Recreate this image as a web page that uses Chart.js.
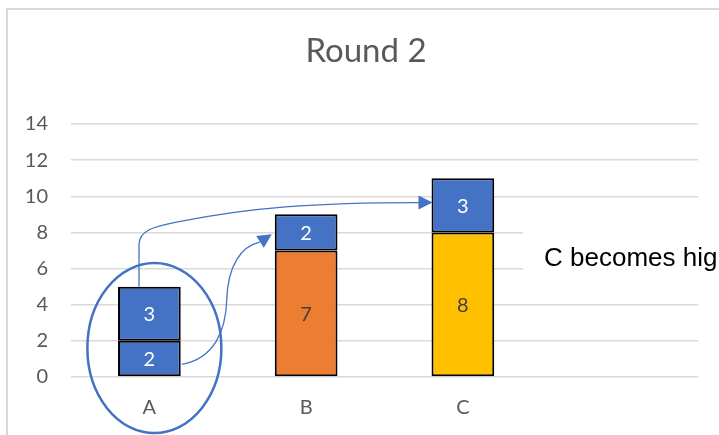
<!DOCTYPE html>
<html>
<head>
<meta charset="utf-8">
<script src="https://cdn.jsdelivr.net/npm/chart.js@4/dist/chart.umd.min.js"></script>
<style>
  html, body { margin: 0; padding: 0; background: #fff; overflow: hidden; }
  #wrap { position: relative; width: 719px; height: 435px; }
</style>
</head>
<body>
<div id="wrap"><canvas id="c" width="719" height="435"></canvas></div>
<script>
// Categories (the fourth slot is left empty)
const categories = ['A', 'B', 'C', ''];
// Lower segment of each stack
const baseValues = [2, 7, 8, null];
// Upper (blue) segment of each stack
const addedValues = [3, 2, 3, null];
// Axis ticks
const yTicks = [0, 2, 4, 6, 8, 10, 12, 14];
const chartTitle = 'Round 2';

const BLUE = '#4472C4';
const ORANGE = '#ED7D31';
const GOLD = '#FFC000';
const baseColors = [BLUE, ORANGE, GOLD, BLUE];
const baseLabelColors = ['#ffffff', '#404040', '#404040', '#404040'];

const FONT = 'Lato, "Open Sans", sans-serif';

// Light grey frame around the whole chart object, plus the title
const framePlugin = {
  id: 'frame',
  beforeDraw(chart) {
    const ctx = chart.ctx;
    ctx.save();
    ctx.strokeStyle = '#d9d9d9';
    ctx.lineWidth = 2;
    ctx.strokeRect(7, 9, 900, 900);
    ctx.fillStyle = '#595959';
    ctx.font = '33px ' + FONT;
    ctx.textAlign = 'center';
    ctx.textBaseline = 'middle';
    ctx.fillText(chartTitle, 366, 51);
    ctx.restore();
  }
};

// Value labels centred in each stacked segment
const valueLabels = {
  id: 'valueLabels',
  afterDatasetsDraw(chart) {
    const ctx = chart.ctx;
    ctx.save();
    ctx.font = '20px ' + FONT;
    ctx.textAlign = 'center';
    ctx.textBaseline = 'middle';
    chart.data.datasets.forEach((ds, di) => {
      const meta = chart.getDatasetMeta(di);
      meta.data.forEach((bar, i) => {
        const v = ds.data[i];
        if (v === null || v === undefined) return;
        const p = bar.getProps(['x', 'y', 'base'], true);
        ctx.fillStyle = ds.labelColors[i];
        ctx.fillText(String(v), p.x, (p.y + p.base) / 2 + 1);
      });
    });
    ctx.restore();
  }
};

function arrowHead(ctx, fromX, fromY, tipX, tipY, len, half) {
  const a = Math.atan2(tipY - fromY, tipX - fromX);
  ctx.beginPath();
  ctx.moveTo(tipX, tipY);
  ctx.lineTo(tipX - len * Math.cos(a) + half * Math.sin(a), tipY - len * Math.sin(a) - half * Math.cos(a));
  ctx.lineTo(tipX - len * Math.cos(a) - half * Math.sin(a), tipY - len * Math.sin(a) + half * Math.cos(a));
  ctx.closePath();
  ctx.fill();
}

// Ellipse around A, the two connector arrows and the note box
const notes = {
  id: 'notes',
  afterDraw(chart) {
    const ctx = chart.ctx;
    const y = chart.scales.y;
    const topMeta = chart.getDatasetMeta(1).data;
    const aTop = topMeta[0].getProps(['x', 'y', 'width'], true);
    const bTop = topMeta[1].getProps(['x', 'y', 'width'], true);
    const cTop = topMeta[2].getProps(['x', 'y', 'width'], true);
    const aLeft = aTop.x - aTop.width / 2;
    const aRight = aTop.x + aTop.width / 2;
    const bLeft = bTop.x - bTop.width / 2;
    const cLeft = cTop.x - cTop.width / 2;

    ctx.save();
    ctx.strokeStyle = BLUE;
    ctx.fillStyle = BLUE;

    // ellipse
    ctx.lineWidth = 2.5;
    ctx.beginPath();
    ctx.ellipse(aTop.x + 5, y.getPixelForValue(1.6), 67, 85, 0, 0, Math.PI * 2);
    ctx.stroke();

    // connector A -> C
    ctx.lineWidth = 1.3;
    const s1x = aLeft + 21, s1y = aTop.y;
    const t1x = cLeft + 1, t1y = y.getPixelForValue(9.65);
    ctx.beginPath();
    ctx.moveTo(s1x, s1y);
    ctx.lineTo(s1x, s1y - 42);
    ctx.bezierCurveTo(s1x, s1y - 56, s1x + 14, s1y - 60, s1x + 40, s1y - 65);
    ctx.bezierCurveTo(s1x + 110, s1y - 79, t1x - 120, t1y, t1x - 12, t1y);
    ctx.stroke();
    arrowHead(ctx, t1x - 20, t1y, t1x, t1y, 14, 7);

    // connector A -> B
    const s2x = aRight + 1, s2y = y.getPixelForValue(0.7);
    const t2x = bLeft - 3, t2y = y.getPixelForValue(7.9);
    ctx.beginPath();
    ctx.moveTo(s2x, s2y);
    ctx.bezierCurveTo(s2x + 33, s2y - 6, s2x + 44, s2y - 34, s2x + 45, s2y - 64);
    ctx.bezierCurveTo(s2x + 46, s2y - 100, s2x + 60, s2y - 118, t2x - 12, t2y + 8);
    ctx.stroke();
    arrowHead(ctx, t2x - 17, t2y + 11, t2x, t2y, 14, 7);

    // note box
    ctx.fillStyle = '#ffffff';
    ctx.fillRect(523, y.getPixelForValue(9), 200, y.getPixelForValue(5) - y.getPixelForValue(9));
    ctx.fillStyle = '#000000';
    ctx.font = '26px "Liberation Sans", Arial, sans-serif';
    ctx.textAlign = 'left';
    ctx.textBaseline = 'alphabetic';
    ctx.fillText('C becomes hig', 544, 266);
    ctx.restore();
  }
};

new Chart(document.getElementById('c'), {
  type: 'bar',
  data: {
    labels: categories,
    datasets: [
      {
        label: 'Base',
        data: baseValues,
        backgroundColor: baseColors,
        labelColors: baseLabelColors,
        borderColor: '#000000',
        borderWidth: 2,
        borderSkipped: false
      },
      {
        label: 'Added',
        data: addedValues,
        backgroundColor: BLUE,
        labelColors: ['#ffffff', '#ffffff', '#ffffff', '#ffffff'],
        borderColor: '#000000',
        borderWidth: 2,
        borderSkipped: false
      }
    ]
  },
  options: {
    responsive: false,
    animation: false,
    devicePixelRatio: 1,
    layout: { padding: { left: 0, right: 21, top: 124, bottom: 0 } },
    categoryPercentage: 0.4,
    barPercentage: 1,
    plugins: {
      legend: { display: false },
      tooltip: { enabled: false },
      title: { display: false }
    },
    scales: {
      x: {
        stacked: true,
        grid: { display: false, drawTicks: false },
        border: { display: false },
        ticks: { color: '#595959', font: { family: FONT, size: 20 }, padding: 19 },
        afterFit(scale) { scale.height = 58; }
      },
      y: {
        stacked: true,
        min: 0,
        max: 14,
        afterBuildTicks(scale) { scale.ticks = yTicks.map(v => ({ value: v })); },
        grid: { color: '#d9d9d9', lineWidth: 1.5, drawTicks: false },
        border: { display: false },
        ticks: { color: '#595959', font: { family: FONT, size: 20 }, padding: 23 },
        afterFit(scale) { scale.width = 71; }
      }
    }
  },
  plugins: [framePlugin, valueLabels, notes]
});
</script>
</body>
</html>
